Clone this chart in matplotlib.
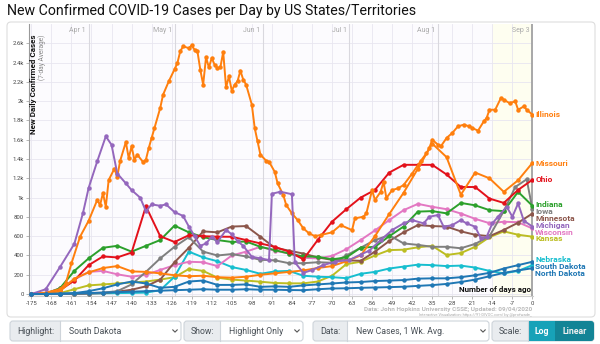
import matplotlib
matplotlib.use("Agg")
import matplotlib.pyplot as plt
from matplotlib.patches import FancyBboxPatch, Rectangle
from matplotlib.ticker import FuncFormatter

plt.rcParams["font.family"] = ["Roboto", "DejaVu Sans"]

W, H = 600, 344

# ---- data: 7-day average of new confirmed cases, by days before Sep 3 ----
days = list(range(-175, 1, 5))

illinois_days = [-175, -170, -165, -163, -161, -158, -155, -152, -151, -150, -149, -148, -146, -145, -144,
                 -142, -141, -140, -139, -138, -136, -135, -134, -133, -132, -130, -129, -127, -125, -124,
                 -123, -122, -120, -119, -118, -117, -116, -115, -114, -113, -112, -111, -110, -109, -108,
                 -107, -106, -105, -104, -103, -102, -101, -100, -98, -97, -96, -95, -93, -92, -90,
                 -89, -87, -86, -84, -82, -80, -78, -76, -74, -70, -67, -63, -62, -59, -58,
                 -56, -55, -53, -52, -51, -49, -47, -45, -42, -39, -37, -36, -35, -33, -32,
                 -30, -28, -26, -24, -22, -21, -19, -17, -16, -15, -13, -11, -10, -8, -6,
                 -5, -3, -2, 0]
illinois = [5, 15, 50, 110, 318, 594, 760, 975, 923, 1047, 905, 1182, 1300, 1216, 1380,
            1576, 1410, 1531, 1393, 1445, 1369, 1393, 1514, 1618, 1722, 1929, 2067, 2206, 2330, 2395,
            2517, 2568, 2550, 2578, 2533, 2517, 2326, 2171, 2455, 2350, 2447, 2378, 2343, 2350, 2510,
            2143, 2257, 2108, 2171, 2206, 2316, 2223, 2171, 1964, 1722, 1583, 1445, 1383, 1372, 1268,
            1148, 1027, 923, 837, 767, 681, 629, 601, 612, 640, 715, 663, 785, 802, 837,
            1078, 975, 1061, 1164, 995, 1078, 1096, 1130, 1250, 1380, 1460, 1515, 1600, 1549, 1531,
            1618, 1670, 1739, 1756, 1739, 1722, 1694, 1790, 1825, 1911, 1911, 2033, 2015, 1980, 1998,
            1911, 1946, 1911, 1860]

missouri = [0, 5, 30, 160, 225, 270, 290, 235, 230, 215, 195, 185, 190, 175, 170, 180, 200, 215,
            230, 245, 270, 290, 340, 400, 600, 830, 1050, 1300, 1560, 1420, 1030, 1260, 1200, 1060, 1180, 1360]

ohio = [0, 5, 40, 140, 300, 390, 380, 430, 910, 600, 540, 610, 600, 595, 594, 560, 525, 490,
        440, 360, 560, 750, 880, 1000, 1080, 1260, 1340, 1340, 1340, 1240, 1110, 1110, 990, 945, 1080, 1185]

indiana = [0, 5, 60, 240, 370, 480, 500, 440, 500, 560, 710, 640, 590, 560, 540, 545, 490, 456,
           420, 390, 387, 360, 380, 480, 490, 600, 700, 855, 860, 837, 945, 920, 870, 860, 1060, 915]

iowa_days = list(range(-175, -9, 5)) + [-6, -2, 0]
iowa = [0, 0, 2, 5, 10, 15, 30, 100, 230, 370, 490, 590, 440, 400, 415, 390, 355, 350,
        320, 320, 330, 325, 400, 480, 560, 610, 525, 510, 490, 490, 475, 520, 600, 860, 1110, 1190, 880]

minnesota = [0, 0, 0, 2, 5, 10, 25, 45, 80, 150, 330, 480, 650, 640, 700, 705, 594, 480,
             450, 420, 380, 355, 350, 345, 440, 550, 640, 715, 705, 700, 650, 615, 600, 665, 740, 835]

michigan_days = [-175, -170, -165, -160, -157, -155, -152, -149, -147, -145, -142, -140, -137, -135, -133,
                 -130, -128, -125, -122, -120, -118, -116, -114, -112, -110, -107, -105, -103, -101, -98,
                 -95, -92, -91, -88, -84, -83, -80, -77, -73, -69, -64, -60, -57, -53, -49,
                 -45, -42, -38, -36, -33, -31, -28, -25, -23, -20, -18, -16, -14, -12, -9,
                 -7, -5, -3, 0]
michigan = [0, 50, 280, 520, 837, 1100, 1376, 1635, 1548, 1250, 1148, 1078, 1000, 860, 930,
            915, 930, 850, 810, 700, 600, 500, 525, 594, 540, 664, 620, 550, 500, 387,
            370, 353, 1040, 1061, 1035, 330, 220, 249, 301, 335, 353, 410, 450, 560, 664,
            733, 767, 733, 802, 819, 698, 715, 767, 733, 698, 577, 594, 733, 802, 905,
            802, 940, 760, 700]

wisconsin = [0, 5, 60, 150, 230, 240, 205, 180, 200, 250, 300, 335, 330, 290, 400, 440, 490, 450,
             420, 375, 370, 395, 465, 560, 660, 767, 870, 935, 905, 880, 835, 780, 735, 750, 745, 680]

kansas = [0, 0, 10, 50, 90, 100, 110, 120, 130, 150, 175, 260, 240, 170, 150, 140, 128, 115,
          111, 111, 130, 190, 310, 335, 400, 456, 460, 485, 500, 405, 425, 490, 590, 650, 615, 595]

nebraska = [0, 1, 2, 3, 5, 7, 10, 12, 15, 40, 180, 440, 380, 340, 280, 250, 210, 235,
            240, 190, 180, 175, 165, 210, 230, 265, 285, 305, 300, 290, 295, 275, 240, 215, 240, 300]

south_dakota = [0, 2, 5, 10, 30, 60, 100, 130, 110, 65, 75, 130, 140, 95, 95, 100, 75, 80,
                75, 90, 100, 110, 120, 125, 135, 140, 145, 160, 163, 163, 175, 195, 220, 265, 300, 335]

north_dakota = [0, 1, 3, 6, 10, 15, 20, 25, 30, 35, 40, 45, 50, 45, 45, 50, 45, 45,
                42, 40, 50, 58, 60, 65, 68, 72, 76, 85, 93, 105, 125, 150, 185, 220, 245, 268]

month_days = [-155, -125, -94, -64, -33, 0]
month_names = ["Apr 1", "May 1", "Jun 1", "Jul 1", "Aug 1", "Sep 3"]

# (name, x, y, color, end-label height)
series = [
    ("Kansas", days, kansas, "#bcbd22", 572),
    ("Nebraska", days, nebraska, "#17becf", 362),
    ("Wisconsin", days, wisconsin, "#e377c2", 640),
    ("Minnesota", days, minnesota, "#8c564b", 786),
    ("Iowa", iowa_days, iowa, "#7f7f7f", 856),
    ("Indiana", days, indiana, "#2ca02c", 926),
    ("Ohio", days, ohio, "#e3111b", 1192),
    ("Missouri", days, missouri, "#ff7f0e", 1355),
    ("Illinois", illinois_days, illinois, "#ff7f0e", 1863),
    ("Michigan", michigan_days, michigan, "#9467bd", 708),
    ("North Dakota", days, north_dakota, "#1f77b4", 214),
    ("South Dakota", days, south_dakota, "#1f77b4", 288),
]

fig = plt.figure(figsize=(W / 100, H / 100), dpi=100)

# pixel-space overlay for page furniture
ov = fig.add_axes([0, 0, 1, 1], zorder=0)
ov.set_xlim(0, W)
ov.set_ylim(H, 0)
ov.set_axis_off()

ov.text(7, 11, "New Confirmed COVID-19 Cases per Day by US States/Territories",
        fontsize=10.2, color="#111", ha="left", va="center")
ov.add_patch(FancyBboxPatch((7, 22), 588, 295, boxstyle="round,pad=0,rounding_size=4",
                            fc="white", ec="#dddddd", lw=0.8))

ax = fig.add_axes([28.5 / W, (H - 296) / H, 504.5 / W, 272 / H], zorder=1)
ax.set_xlim(-176, 0.2)
ax.set_ylim(-20, 2800)
ax.set_facecolor("#fcfbfe")
ax.axvspan(-14, 0, color="#fefef0", zorder=0, lw=0)

xt = list(range(-175, 1, 7))
ax.set_xticks(xt)
ax.set_xticklabels([str(t) for t in xt])
ax.set_yticks(range(0, 2601, 200))


def kfmt(v, _):
    if v >= 1000:
        s = f"{v / 1000:.1f}".rstrip("0").rstrip(".")
        return s + "k"
    return f"{int(v)}"


ax.yaxis.set_major_formatter(FuncFormatter(kfmt))
ax.grid(True, color="#e8e6f0", lw=0.6)
ax.set_axisbelow(True)
ax.tick_params(axis="both", labelsize=4.3, labelcolor="#444", color="#aaa",
               length=2.5, width=0.6, pad=0.8)
for s in ["top", "right"]:
    ax.spines[s].set_visible(False)
ax.spines["left"].set_color("#999")
ax.spines["bottom"].set_color("#cccccc")
ax.spines["left"].set_linewidth(0.8)

for d, name in zip(month_days, month_names):
    ax.axvline(d, color="#a8a8a8" if d == 0 else "#d9d8de", lw=1.4 if d == 0 else 0.8, zorder=1)
    ax.text(d - 0.9, 2730, name, ha="right", va="center", fontsize=5, color="#aaa")

for name, x, y, c, ly in series:
    ax.plot(x, y, color=c, lw=1.4, marker="o", ms=2.2, mec=c, mfc=c, zorder=3)
    ax.text(1.0, ly, name, color=c, fontsize=6.0, fontweight="bold",
            ha="left", va="center", clip_on=False, zorder=5)

ax.text(0.0095, 0.96, "New Daily Confirmed Cases", transform=ax.transAxes, rotation=90,
        ha="center", va="top", fontsize=5.8, fontweight="bold", color="#111", zorder=6)
ax.text(0.026, 0.96, "(7-day Average)", transform=ax.transAxes, rotation=90,
        ha="center", va="top", fontsize=4.7, color="#888", zorder=6)
ax.text(-0.6, 52, "Number of days ago", ha="right", va="center", fontsize=5.8,
        fontweight="bold", color="#111", zorder=6)

ov.text(532, 310, "Data: John Hopkins University CSSE; Updated: 09/04/2020", ha="right",
        va="center", fontsize=4.6, fontweight="bold", color="#bbbbbb")
ov.text(532, 315, "Interactive Visualization: https://91-DIVOC.com/ by @profwade_", ha="right",
        va="center", fontsize=2.9, color="#aaaaaa")

# ---- control bar ----
def select_box(x0, x1, xsplit, label, value, chevron=True):
    y0, h = 321, 20
    ov.add_patch(FancyBboxPatch((x0, y0), x1 - x0, h, boxstyle="round,pad=0,rounding_size=3",
                                fc="white", ec="none"))
    ov.add_patch(FancyBboxPatch((x0, y0), xsplit - x0, h, boxstyle="round,pad=0,rounding_size=3",
                                fc="#e9ecef", ec="none"))
    ov.add_patch(Rectangle((xsplit - 3, y0), 3, h, fc="#e9ecef", ec="none"))
    ov.add_patch(FancyBboxPatch((x0, y0), x1 - x0, h, boxstyle="round,pad=0,rounding_size=3",
                                fc="none", ec="#ced4da", lw=0.8))
    ov.plot([xsplit, xsplit], [y0, y0 + h], color="#ced4da", lw=0.8)
    ov.text(x0 + 7, y0 + h / 2, label, fontsize=6.3, color="#495057", ha="left", va="center")
    if value:
        ov.text(xsplit + 9, y0 + h / 2, value, fontsize=6.3, color="#495057", ha="left", va="center")
    if chevron:
        cx, cy = x1 - 6, y0 + h / 2
        ov.plot([cx - 2.2, cx, cx + 2.2], [cy - 1.1, cy + 1.1, cy - 1.1], color="#555", lw=0.8)


select_box(10, 181, 60, "Highlight:", "South Dakota")
select_box(184, 303, 220, "Show:", "Highlight Only")
select_box(313, 489, 347, "Data:", "New Cases, 1 Wk. Avg.")
select_box(492, 594, 528, "Scale:", None, chevron=False)
ov.add_patch(Rectangle((528, 321), 27, 20, fc="#17a2b8", ec="none"))
ov.add_patch(FancyBboxPatch((555, 321), 39, 20, boxstyle="round,pad=0,rounding_size=3",
                            fc="#138496", ec="none"))
ov.add_patch(Rectangle((555, 321), 4, 20, fc="#138496", ec="none"))
ov.text(541.5, 331, "Log", fontsize=6.3, fontweight="bold", color="white", ha="center", va="center")
ov.text(574.5, 331, "Linear", fontsize=6.3, fontweight="bold", color="#f0f0f0", ha="center", va="center")

fig.savefig("out.png", dpi=100)
